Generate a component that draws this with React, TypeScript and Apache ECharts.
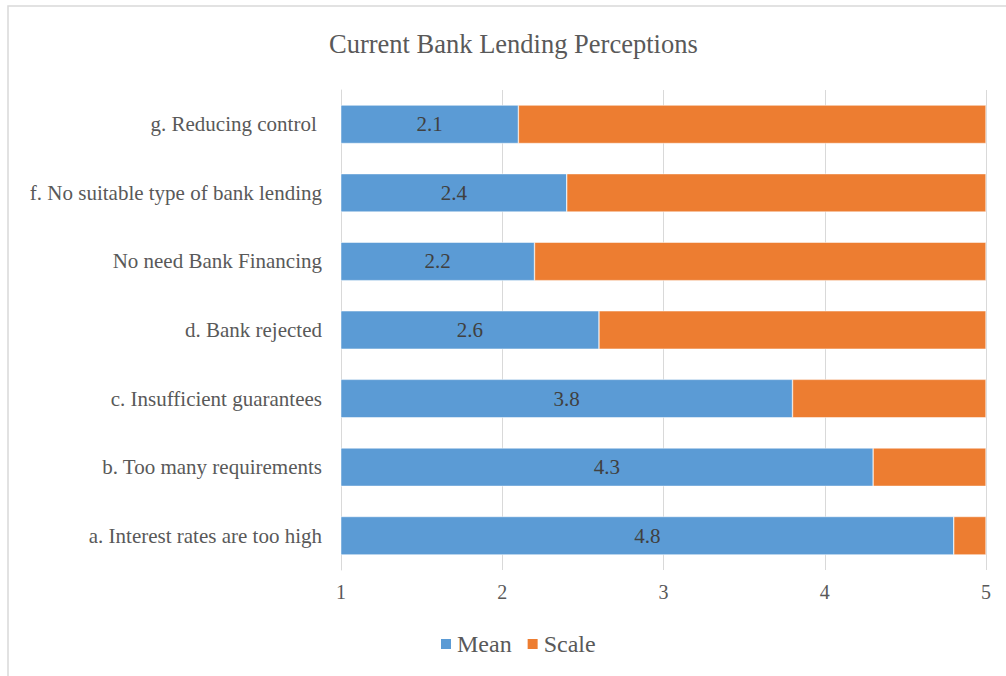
import React, { useEffect, useRef } from "react";
import * as echarts from "echarts";

const categories = [
  "a. Interest rates are too high",
  "b. Too many requirements",
  "c. Insufficient guarantees",
  "d. Bank rejected",
  "No need Bank Financing",
  "f. No suitable type of bank lending",
  "g. Reducing control ",
];
const meanValues = [4.8, 4.3, 3.8, 2.6, 2.2, 2.4, 2.1];
const scaleValues = [0.2, 0.7, 1.2, 2.4, 2.8, 2.6, 2.9];
const xTicks = [1, 2, 3, 4, 5];

const FONT = "Times New Roman";
const TEXT = "#595959";

export default function App() {
  const ref = useRef<HTMLDivElement>(null);
  useEffect(() => {
    if (!ref.current) return;
    const chart = echarts.init(ref.current, undefined, { renderer: "svg" });
    chart.setOption({
      animation: false,
      backgroundColor: "#ffffff",
      textStyle: { fontFamily: FONT, color: TEXT },
      title: {
        text: "Current Bank Lending Perceptions",
        left: 324,
        top: 25,
        textStyle: { fontFamily: FONT, fontSize: 26.5, fontWeight: "normal", color: TEXT },
      },
      legend: {
        bottom: 15,
        left: 434,
        itemWidth: 12,
        itemHeight: 12,
        itemGap: 14,
        icon: "rect",
        textStyle: { fontFamily: FONT, fontSize: 24, color: TEXT },
        data: ["Mean", "Scale"],
      },
      grid: { left: 341, right: 20, top: 90, bottom: 106, containLabel: false },
      xAxis: {
        type: "value",
        min: 1,
        max: 5,
        interval: 1,
        axisLine: { show: false },
        axisTick: { show: false },
        axisLabel: {
          fontFamily: FONT,
          fontSize: 20,
          color: TEXT,
          margin: 12,
          formatter: (v: number) => (xTicks.includes(v) ? String(v) : ""),
        },
        splitLine: { show: true, lineStyle: { color: "#d9d9d9", width: 1 } },
      },
      yAxis: {
        type: "category",
        data: categories,
        axisLine: { show: true, lineStyle: { color: "#d9d9d9", width: 1 } },
        axisTick: { show: false },
        axisLabel: { fontFamily: FONT, fontSize: 21, color: TEXT, margin: 19 },
      },
      series: [
        {
          name: "Mean",
          type: "bar",
          stack: "total",
          data: meanValues,
          barCategoryGap: "44%",
          itemStyle: { color: "#5b9bd5", borderColor: "#ffffff", borderWidth: 0.5 },
          label: {
            show: true,
            position: "inside",
            fontFamily: FONT,
            fontSize: 21,
            color: "#404040",
            formatter: (p: any) => p.value.toFixed(1),
          },
        },
        {
          name: "Scale",
          type: "bar",
          stack: "total",
          data: scaleValues,
          itemStyle: { color: "#ed7d31", borderColor: "#ffffff", borderWidth: 0.5 },
        },
      ],
      graphic: [
        {
          type: "rect",
          shape: { x: 8, y: 6, width: 1100, height: 800 },
          style: { fill: "none", stroke: "#d9d9d9", lineWidth: 1.5 },
          silent: true,
        },
      ],
    });
    return () => chart.dispose();
  }, []);
  return (
    <div
      ref={ref}
      style={{ position: "absolute", left: 0, top: 0, width: 1006, height: 676 }}
    />
  );
}
